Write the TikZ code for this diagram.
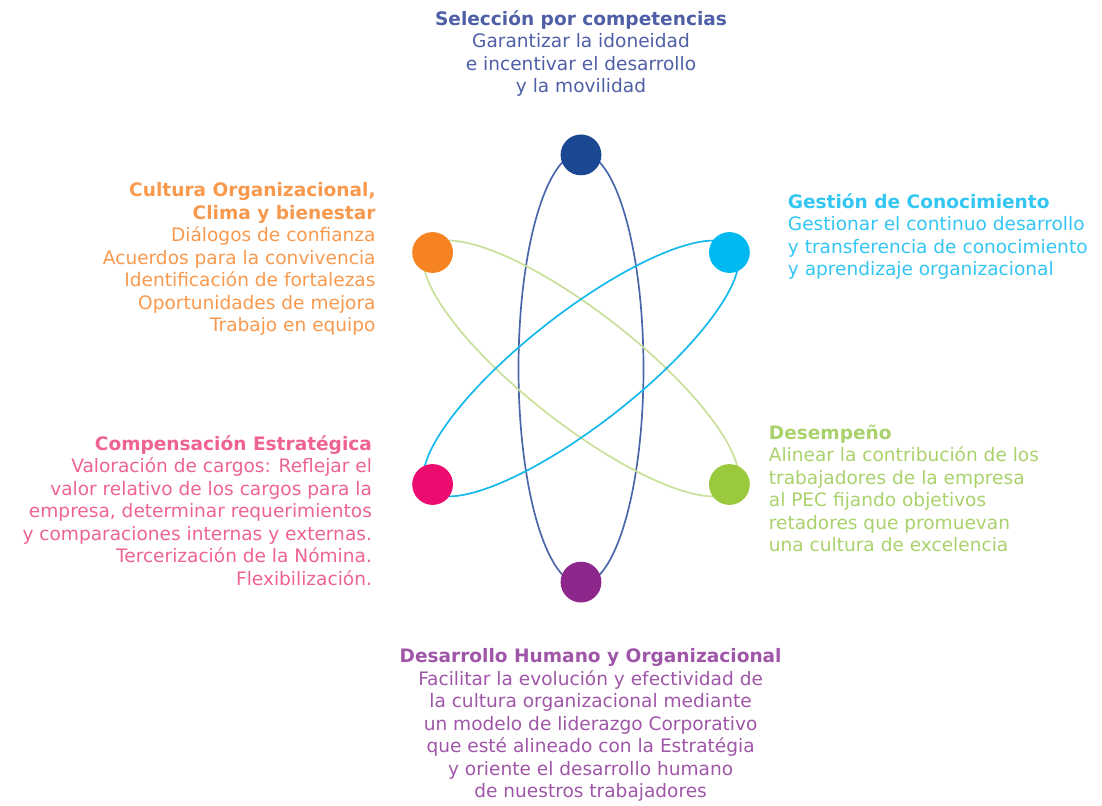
\documentclass[tikz,border=0pt]{standalone}
\usepackage{xcolor}
\usepackage{fontspec}
\setmainfont{DejaVu Sans}
\usepackage{tikz}
\usetikzlibrary{positioning}

\definecolor{selblue}{HTML}{1C4792}
\definecolor{cultorange}{HTML}{F58322}
\definecolor{gestcyan}{HTML}{00B9F1}
\definecolor{comppink}{HTML}{EC0B6F}
\definecolor{desegreen}{HTML}{9BC93D}
\definecolor{desapurple}{HTML}{8E278C}
\definecolor{orbitblue}{HTML}{4A66AA}
\definecolor{orbitcyan}{HTML}{14B8EB}
\definecolor{orbitgreen}{HTML}{C8E09A}
\definecolor{seltext}{HTML}{4E5FA6}
\definecolor{culttext}{HTML}{F8994E}
\definecolor{gesttext}{HTML}{33C6F2}
\definecolor{comptext}{HTML}{EE6392}
\definecolor{desetext}{HTML}{A9D26C}
\definecolor{desatext}{HTML}{A056A8}

\begin{document}
\begin{tikzpicture}[
  dot/.style={circle, minimum size=1.02cm, inner sep=0pt, outer sep=0pt},
  orbit/.style={line width=1.2pt},
  txt/.style={inner sep=0pt, font=\fontsize{13.2}{16}\selectfont},
  node distance=0.94cm
]
  \useasboundingbox (-14.525,9.2125) rectangle (13.025,-10.9125);

  % orbits
  \draw[orbit, orbitblue] (0,0) ellipse (1.5625cm and 5.4cm);
  \draw[orbit, orbitgreen, rotate=-38] (0,0) ellipse (4.875cm and 1.4cm);
  \draw[orbit, orbitcyan, rotate=38] (0,0) ellipse (4.875cm and 1.4cm);

  % dots
  \node[dot, fill=selblue]    (sel)  at (0,5.34)     {};
  \node[dot, fill=cultorange] (cult) at (-3.71,2.9)  {};
  \node[dot, fill=gestcyan]   (gest) at (3.71,2.9)   {};
  \node[dot, fill=comppink]   (comp) at (-3.71,-2.9) {};
  \node[dot, fill=desegreen]  (dese) at (3.71,-2.9)  {};
  \node[dot, fill=desapurple] (desa) at (0,-5.34)    {};

  % labels
  \node[txt, align=center, text=seltext, above=0.94cm of sel] (seltxt)
    {\textbf{Selección por competencias}\\Garantizar la idoneidad\\e incentivar el desarrollo\\y la movilidad};
  \node[txt, align=right, text=culttext, left=0.91cm of cult, yshift=-0.165cm] (culttxt)
    {\textbf{Cultura Organizacional,}\\\textbf{Clima y bienestar}\\Diálogos de confianza\\Acuerdos para la convivencia\\Identificación de fortalezas\\Oportunidades de mejora\\Trabajo en equipo};
  \node[txt, align=left, text=gesttext, right=0.945cm of gest, yshift=0.405cm] (gesttxt)
    {\textbf{Gestión de Conocimiento}\\Gestionar el continuo desarrollo\\y transferencia de conocimiento\\y aprendizaje organizacional};
  \node[txt, align=right, text=comptext, left=1.0cm of comp, yshift=-0.65cm] (comptxt)
    {\textbf{Compensación Estratégica}\\Valoración de cargos: Reflejar el\\valor relativo de los cargos para la\\empresa, determinar requerimientos\\y comparaciones internas y externas.\\Tercerización de la Nómina.\\Flexibilización.};
  \node[txt, align=left, text=desetext, right=0.47cm of dese, yshift=-0.1cm] (desetxt)
    {\textbf{Desempeño}\\Alinear la contribución de los\\trabajadores de la empresa\\al PEC fijando objetivos\\retadores que promuevan\\una cultura de excelencia};
  \node[txt, align=center, text=desatext, below=1.15cm of desa, xshift=0.24cm] (desatxt)
    {\textbf{Desarrollo Humano y Organizacional}\\Facilitar la evolución y efectividad de\\la cultura organizacional mediante\\un modelo de liderazgo Corporativo\\que esté alineado con la Estratégia\\y oriente el desarrollo humano\\de nuestros trabajadores};
\end{tikzpicture}
\end{document}
